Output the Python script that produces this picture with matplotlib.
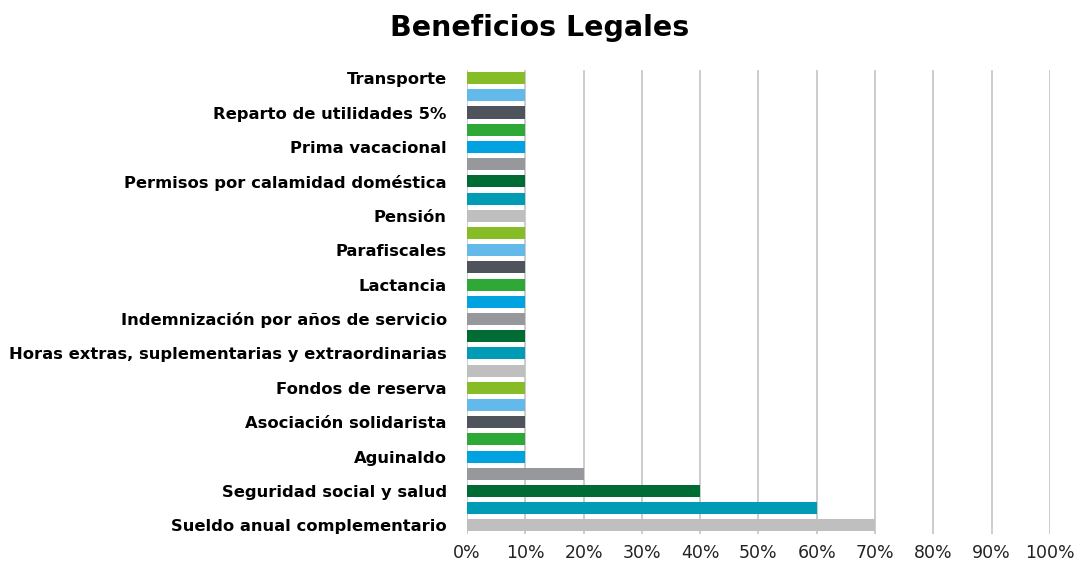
import numpy as np
import matplotlib.pyplot as plt
from matplotlib.ticker import PercentFormatter

plt.rcParams['font.family'] = ['DejaVu Sans']

# Categories from bottom to top; every other one carries a visible label
labels = ["Sueldo anual complementario", "", "Seguridad social y salud", "",
          "Aguinaldo", "", "Asociación solidarista", "", "Fondos de reserva", "",
          "Horas extras, suplementarias y extraordinarias", "",
          "Indemnización por años de servicio", "", "Lactancia", "",
          "Parafiscales", "", "Pensión", "", "Permisos por calamidad doméstica", "",
          "Prima vacacional", "", "Reparto de utilidades 5%", "", "Transporte"]
values = [0.70, 0.60, 0.40, 0.20, 0.10, 0.10, 0.10, 0.10, 0.10,
          0.10, 0.10, 0.10, 0.10, 0.10, 0.10, 0.10, 0.10, 0.10,
          0.10, 0.10, 0.10, 0.10, 0.10, 0.10, 0.10, 0.10, 0.10]

palette = ["#BFBFBF", "#009BB5", "#006B34", "#97989C", "#00A3E0",
           "#2EA836", "#4F535C", "#62B9EA", "#86BC25"]
colors = [palette[i % len(palette)] for i in range(len(values))]

fig = plt.figure(figsize=(10.79, 5.61), dpi=100)
ax = fig.add_axes([0.4328, 0.0482, 0.5403, 0.8279])

y = np.arange(len(values))
ax.barh(y, values, height=0.7, color=colors, zorder=3)

ax.set_xlim(0, 1)
ax.set_ylim(-0.5, len(values) - 0.5)
ax.set_xticks(np.arange(0, 1.01, 0.1))
ax.xaxis.set_major_formatter(PercentFormatter(1.0, decimals=0))
ax.set_yticks(y)
ax.set_yticklabels(labels, fontsize=11.8, fontweight="bold")
ax.tick_params(axis="y", length=0, pad=14.5)
ax.tick_params(axis="x", length=0, labelsize=12.5, pad=7.5, colors="#222222")
ax.grid(axis="x", color="#C8C8C8", linewidth=1.3, zorder=0)
for s in ax.spines.values():
    s.set_visible(False)

fig.suptitle("Beneficios Legales", x=0.5, y=0.975, fontsize=20.5, fontweight="bold")

fig.savefig("out.png", dpi=100)
